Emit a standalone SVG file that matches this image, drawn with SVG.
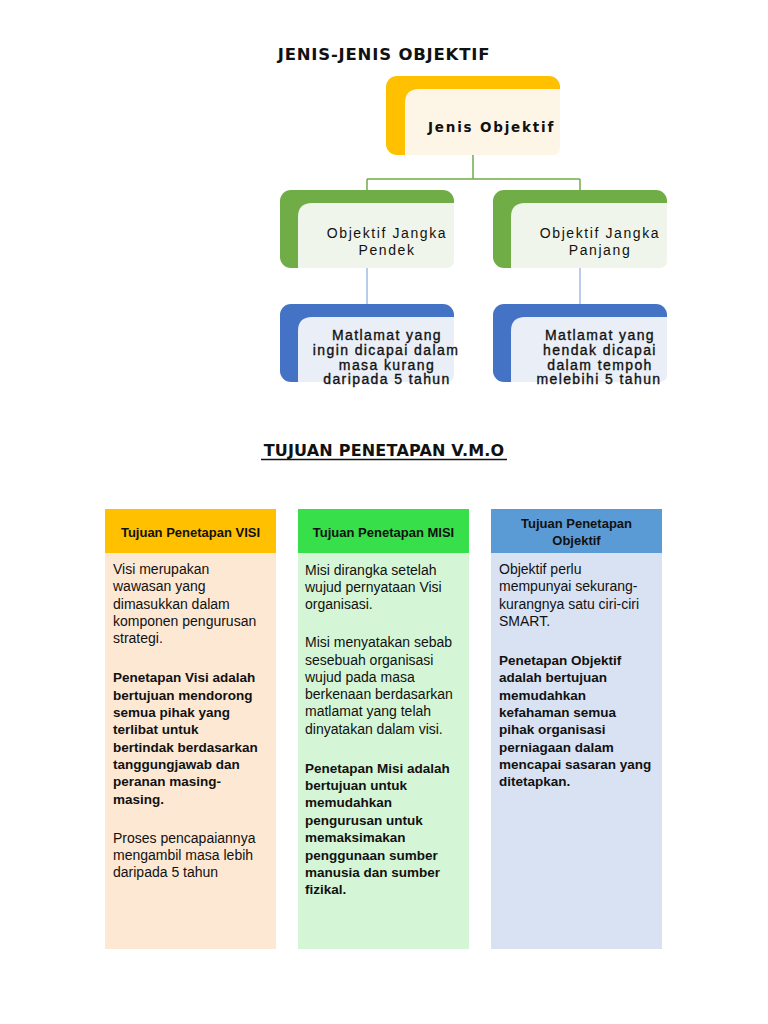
<svg xmlns="http://www.w3.org/2000/svg" width="768" height="1024" viewBox="0 0 768 1024">
<style>
.title{font-family:"DejaVu Sans",Verdana,sans-serif;font-weight:bold;font-size:16px;fill:#111}
.hdr{font-family:"Liberation Sans",Arial,sans-serif;font-weight:bold;font-size:13px;fill:#111;text-anchor:middle}
.body{font-family:"Liberation Sans",Arial,sans-serif;font-size:14px;fill:#111}
.bold{font-weight:bold;font-size:13.5px}
.node{font-family:"Liberation Sans",Arial,sans-serif;font-size:14px;fill:#111;text-anchor:middle;letter-spacing:1.6px}
.dark{stroke:#111;stroke-width:0.35}
.comic{font-family:"Comic Sans MS","DejaVu Sans",sans-serif;font-weight:bold;font-size:13.5px;fill:#111;letter-spacing:1.8px}
.gline{stroke:#70AD47;stroke-width:1.5;fill:none}
.bline{stroke:#8EA9DB;stroke-width:1.2;fill:none}
</style>

<text class="title" x="384" y="60" text-anchor="middle" style="font-size:16.5px;letter-spacing:0.8px">JENIS-JENIS OBJEKTIF</text>

<g id="connectors">
  <path class="gline" d="M473,155 V179 M367,179 H580 M367,179 V191 M580,179 V191"/>
  <path class="bline" d="M367,268 V305 M580,268 V305"/>
</g>

<g id="node-jenis">
  <rect x="386" y="76" width="174" height="79" rx="11" fill="#FFC000"/>
  <path d="M405,103 Q405,89 419,89 H560 V147 Q560,155 552,155 H405 Z" fill="#FDF6E6"/>
  <text class="comic" x="428" y="132">Jenis Objektif</text>
</g>

<g id="node-pendek">
  <rect x="280" y="190" width="174" height="78" rx="11" fill="#70AD47"/>
  <path d="M298,217 Q298,203 312,203 H454 V260 Q454,268 446,268 H298 Z" fill="#EFF5EA"/>
  <text class="node" x="387" y="238">Objektif Jangka</text>
  <text class="node" x="387" y="255">Pendek</text>
</g>

<g id="node-panjang">
  <rect x="493" y="190" width="174" height="78" rx="11" fill="#70AD47"/>
  <path d="M511,217 Q511,203 525,203 H667 V260 Q667,268 659,268 H511 Z" fill="#EFF5EA"/>
  <text class="node" x="600" y="238">Objektif Jangka</text>
  <text class="node" x="600" y="255">Panjang</text>
</g>

<g id="node-pendek-desc">
  <rect x="280" y="304" width="174" height="78" rx="11" fill="#4472C4"/>
  <path d="M298,331 Q298,317 312,317 H454 V374 Q454,382 446,382 H298 Z" fill="#E9EEF7"/>
  <text class="node dark" x="387" y="340" style="letter-spacing:1.4px">Matlamat yang</text>
  <text class="node dark" x="386" y="355" style="letter-spacing:1.4px">ingin dicapai dalam</text>
  <text class="node dark" x="387" y="370" style="letter-spacing:1.4px">masa kurang</text>
  <text class="node dark" x="387" y="384" style="letter-spacing:1.4px">daripada 5 tahun</text>
</g>

<g id="node-panjang-desc">
  <rect x="493" y="304" width="174" height="78" rx="11" fill="#4472C4"/>
  <path d="M511,331 Q511,317 525,317 H667 V374 Q667,382 659,382 H511 Z" fill="#E9EEF7"/>
  <text class="node dark" x="600" y="340" style="letter-spacing:1.4px">Matlamat yang</text>
  <text class="node dark" x="600" y="355" style="letter-spacing:1.4px">hendak dicapai</text>
  <text class="node dark" x="600" y="370" style="letter-spacing:1.4px">dalam tempoh</text>
  <text class="node dark" x="599" y="384" style="letter-spacing:1.4px">melebihi 5 tahun</text>
</g>

<text class="title" x="384" y="456" text-anchor="middle" style="letter-spacing:0.2px">TUJUAN PENETAPAN V.M.O</text>
<line x1="261" y1="459.5" x2="507" y2="459.5" stroke="#111" stroke-width="1.3"/>

<g id="col-visi">
  <rect x="105" y="553" width="171" height="396" fill="#FDE8D4"/>
  <rect x="105" y="509" width="171" height="44" fill="#FFC000"/>
  <text class="hdr" x="190.5" y="537">Tujuan Penetapan VISI</text>
  <text class="body">
    <tspan x="113" y="574">Visi merupakan</tspan>
    <tspan x="113" y="591">wawasan yang</tspan>
    <tspan x="113" y="609">dimasukkan dalam</tspan>
    <tspan x="113" y="626">komponen pengurusan</tspan>
    <tspan x="113" y="643">strategi.</tspan>
  </text>
  <text class="body bold">
    <tspan x="113" y="682">Penetapan Visi adalah</tspan>
    <tspan x="113" y="700">bertujuan mendorong</tspan>
    <tspan x="113" y="717">semua pihak yang</tspan>
    <tspan x="113" y="734">terlibat untuk</tspan>
    <tspan x="113" y="752">bertindak berdasarkan</tspan>
    <tspan x="113" y="769">tanggungjawab dan</tspan>
    <tspan x="113" y="786">peranan masing-</tspan>
    <tspan x="113" y="804">masing.</tspan>
  </text>
  <text class="body">
    <tspan x="113" y="843">Proses pencapaiannya</tspan>
    <tspan x="113" y="860">mengambil masa lebih</tspan>
    <tspan x="113" y="877">daripada 5 tahun</tspan>
  </text>
</g>

<g id="col-misi">
  <rect x="298" y="553" width="171" height="396" fill="#D5F6D6"/>
  <rect x="298" y="509" width="171" height="44" fill="#37DF4A"/>
  <text class="hdr" x="383.5" y="537">Tujuan Penetapan MISI</text>
  <text class="body">
    <tspan x="305" y="575">Misi dirangka setelah</tspan>
    <tspan x="305" y="592">wujud pernyataan Visi</tspan>
    <tspan x="305" y="609">organisasi.</tspan>
  </text>
  <text class="body">
    <tspan x="305" y="647">Misi menyatakan sebab</tspan>
    <tspan x="305" y="665">sesebuah organisasi</tspan>
    <tspan x="305" y="682">wujud pada masa</tspan>
    <tspan x="305" y="699">berkenaan berdasarkan</tspan>
    <tspan x="305" y="716">matlamat yang telah</tspan>
    <tspan x="305" y="734">dinyatakan dalam visi.</tspan>
  </text>
  <text class="body bold">
    <tspan x="305" y="773">Penetapan Misi adalah</tspan>
    <tspan x="305" y="790">bertujuan untuk</tspan>
    <tspan x="305" y="807">memudahkan</tspan>
    <tspan x="305" y="825">pengurusan untuk</tspan>
    <tspan x="305" y="842">memaksimakan</tspan>
    <tspan x="305" y="860">penggunaan sumber</tspan>
    <tspan x="305" y="877">manusia dan sumber</tspan>
    <tspan x="305" y="894">fizikal.</tspan>
  </text>
</g>

<g id="col-objektif">
  <rect x="491" y="553" width="171" height="396" fill="#D9E2F2"/>
  <rect x="491" y="509" width="171" height="44" fill="#5B9BD5"/>
  <text class="hdr" x="576.5" y="528">Tujuan Penetapan</text>
  <text class="hdr" x="576.5" y="545">Objektif</text>
  <text class="body">
    <tspan x="499" y="574">Objektif perlu</tspan>
    <tspan x="499" y="591">mempunyai sekurang-</tspan>
    <tspan x="499" y="609">kurangnya satu ciri-ciri</tspan>
    <tspan x="499" y="626">SMART.</tspan>
  </text>
  <text class="body bold">
    <tspan x="499" y="665">Penetapan Objektif</tspan>
    <tspan x="499" y="682">adalah bertujuan</tspan>
    <tspan x="499" y="700">memudahkan</tspan>
    <tspan x="499" y="717">kefahaman semua</tspan>
    <tspan x="499" y="734">pihak organisasi</tspan>
    <tspan x="499" y="752">perniagaan dalam</tspan>
    <tspan x="499" y="769">mencapai sasaran yang</tspan>
    <tspan x="499" y="786">ditetapkan.</tspan>
  </text>
</g>
</svg>
